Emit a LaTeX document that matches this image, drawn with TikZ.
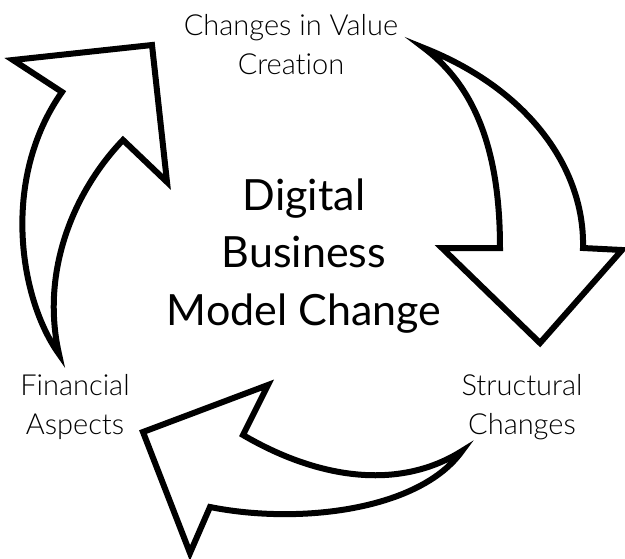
\documentclass[tikz,border=0pt]{standalone}
\usepackage{fontspec}
\setmainfont{Lato}[UprightFont=* Light, BoldFont=*, Ligatures=NoCommon]
\newfontfamily\centerfont{Lato}[Ligatures=NoCommon]
\begin{document}
\begin{tikzpicture}[x=1pt,y=-1pt,
  blockarrow/.style={draw=black,fill=white,line width=6pt,line join=miter,miter limit=20},
  label/.style={align=center,anchor=base,inner sep=0pt,font=\fontsize{29}{38.5}\selectfont},
  title/.style={align=center,anchor=base,inner sep=0pt,font=\centerfont\fontsize{43}{57.5}\selectfont}]
\useasboundingbox (0,0) rectangle (625,558);

% arrow on the left, rising towards the top label
\draw[blockarrow] (59,354) .. controls (20,300) and (0,180) .. (62,92)
  -- (13,60) -- (152,45) -- (167,182) -- (123,140)
  .. controls (75,190) and (40,270) .. (59,354) -- cycle;

% arrow on the right, sweeping down
\draw[blockarrow] (424,48) .. controls (530,90) and (585,170) .. (583,248)
  -- (622,250) -- (540,343) -- (442,248) -- (500,248)
  .. controls (500,160) and (480,90) .. (424,48) -- cycle;

% arrow at the bottom, turning back to the left
\draw[blockarrow] (462,451) .. controls (400,490) and (320,480) .. (243,435)
  -- (268,385) -- (143,432) -- (190,553) -- (210,507)
  .. controls (300,525) and (420,510) .. (462,451) -- cycle;

% labels; the base anchor sits on the last line
\node[label] (value) at (291,74) {Changes in Value\\Creation};
\node[label] (financial) at (75,434) {Financial\\Aspects};
\node[label] (structural) at (522,434) {Structural\\Changes};
\node[title] (core) at (304,325) {Digital\\Business\\Model Change};
\end{tikzpicture}
\end{document}
